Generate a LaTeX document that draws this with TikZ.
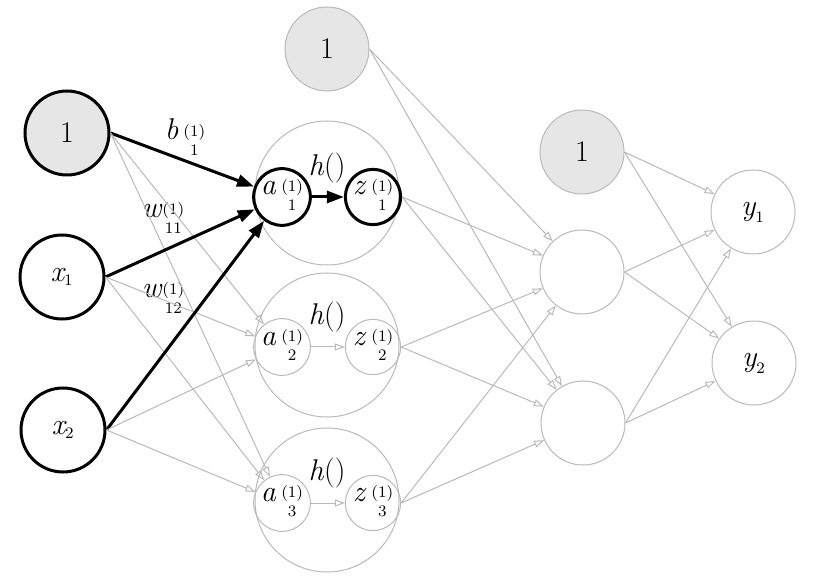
\documentclass[tikz,border=0pt]{standalone}
\usepackage{amsmath}
\usepackage{xcolor}
\usepackage{tikz}
\usetikzlibrary{arrows.meta,positioning}

\definecolor{edgegray}{RGB}{185,185,185}
\definecolor{biasfill}{RGB}{230,230,230}
\newcommand{\lo}[1]{\text{\fontsize{8}{9}\selectfont #1}}
\newcommand{\stk}[1]{\raisebox{-3pt}{\fontsize{8}{9.5}\selectfont
  \begin{tabular}[c]{@{}c@{}}(1)\\#1\end{tabular}}}
\newcommand{\sym}[2]{\textit{#1}\,\stk{#2}}

\tikzset{
  unit/.style={circle, draw=edgegray, line width=0.5pt, minimum size=42pt, inner sep=0pt},
  bias/.style={unit, fill=biasfill},
  active/.style={draw=black, line width=1.5pt},
  layer/.style={circle, draw=edgegray, line width=0.5pt, minimum size=72pt},
  cell/.style={unit, minimum size=26pt},
  link/.style={draw=edgegray, line width=0.5pt, -{Triangle[open, length=5pt, width=3.5pt]}},
  hot/.style={draw=black, line width=1.5pt, -{Triangle[length=8.5pt, width=6pt]}},
}

\begin{document}
\begin{tikzpicture}[x=0.5pt, y=-0.5pt, font=\fontsize{15}{17}\selectfont]
\useasboundingbox (0,0) rectangle (817,576);
% input layer
\node[bias, active] (b1) at (67,133) {1};
\node[unit, active] (x1) at (62,277) {$\textit{x}_{\lo{1}}$};
\node[unit, active] (x2) at (63,430) {$\textit{x}_{\lo{2}}$};
% hidden layer
\node[bias] (c0) at (327,49) {1};
\foreach \i/\yy/\hy in {1/193/168, 2/345/317, 3/500/473} {
  \node[layer] (H\i) at (327,\yy) {};
  \node (h\i) at (327,\hy) {\textit{h}()};
}
\foreach \i/\yy/\st in {1/197/active, 2/347/, 3/503/} {
  \node[cell, \st] (a\i) at (282,\yy) {\sym{a}{\i}};
  \node[cell, \st] (z\i) at (373,\yy) {\sym{z}{\i}};
}
% second layer
\node[bias] (c1) at (582,152) {1};
\node[unit] (n1) at (582,272) {};
\node[unit] (n2) at (583,423) {};
% output layer
\node[unit] (y1) at (753,212) {$\textit{y}_{\lo{1}}$};
\node[unit] (y2) at (754,363) {$\textit{y}_{\lo{2}}$};
% weights
\node (bw) at (185,140) {\sym{b}{1}};
\node (w11) at (163,220) {\textit{w}\stk{11}};
\node (w12) at (163,300) {\textit{w}\stk{12}};
% connections
\foreach \src in {b1,x1,x2} {
  \draw[hot] (\src.east) -- (a1);
  \foreach \dst in {a2,a3} \draw[link] (\src.east) -- (\dst);
}
\draw[hot] (a1) -- (z1);
\draw[link] (a2) -- (z2);
\draw[link] (a3) -- (z3);
\foreach \src in {c0,z1,z2,z3}
  \foreach \dst in {n1,n2} \draw[link] (\src.east) -- (\dst);
\foreach \src in {c1,n1,n2}
  \foreach \dst in {y1,y2} \draw[link] (\src.east) -- (\dst);
\end{tikzpicture}
\end{document}
